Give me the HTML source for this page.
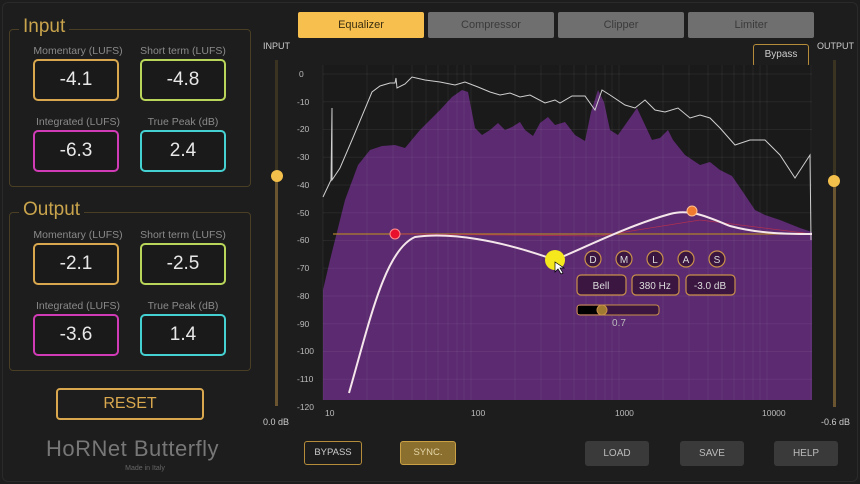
<!DOCTYPE html>
<html><head><meta charset="utf-8"><style>
*{margin:0;padding:0;box-sizing:border-box}
body{width:860px;height:484px;background:#1d1d1d;overflow:hidden;font-family:"Liberation Sans",sans-serif;position:relative}
.a{position:absolute}
.grp{position:absolute;border:1px solid #4a3f25;border-radius:4px}
.gt{position:absolute;color:#c9a44c;font-size:19px;background:#1d1d1d;padding:0 4px}
.lbl{position:absolute;color:#8a8a8a;font-size:10.5px;width:120px;text-align:center}
.box{position:absolute;width:86px;height:42px;border:2px solid;border-radius:5px;color:#e8e8e8;font-size:19px;text-align:center;line-height:38px;background:#1a1a1a}
.tab{position:absolute;top:12px;height:26px;border-radius:2px;background:#6f6f6f;color:#3a3a3a;font-size:11px;text-align:center;line-height:26px}
.btn{position:absolute;top:441px;height:25px;border-radius:3px;background:#3a3a3a;color:#bbb;font-size:10px;text-align:center;line-height:25px}
.ax{position:absolute;color:#bbb;font-size:9px}
</style></head><body>
<div class="a" style="left:2px;top:2px;width:856px;height:480px;border-radius:6px;background:#1d1d1d;border:1px solid #2a2a2a"></div>

<div class="grp" style="left:9px;top:29px;width:242px;height:158px"></div>
<div class="gt" style="left:19px;top:16px">Input</div>
<div class="lbl" style="left:18px;top:45px">Momentary (LUFS)</div>
<div class="lbl" style="left:123px;top:45px">Short term (LUFS)</div>
<div class="box" style="left:33px;top:59px;border-color:#d9a84e">-4.1</div>
<div class="box" style="left:140px;top:59px;border-color:#b9d65a">-4.8</div>
<div class="lbl" style="left:18px;top:116px">Integrated (LUFS)</div>
<div class="lbl" style="left:123px;top:116px">True Peak (dB)</div>
<div class="box" style="left:33px;top:130px;border-color:#d13cb6">-6.3</div>
<div class="box" style="left:140px;top:130px;border-color:#45d1d1">2.4</div>

<div class="grp" style="left:9px;top:212px;width:242px;height:159px"></div>
<div class="gt" style="left:19px;top:199px">Output</div>
<div class="lbl" style="left:18px;top:229px">Momentary (LUFS)</div>
<div class="lbl" style="left:123px;top:229px">Short term (LUFS)</div>
<div class="box" style="left:33px;top:243px;border-color:#d9a84e">-2.1</div>
<div class="box" style="left:140px;top:243px;border-color:#b9d65a">-2.5</div>
<div class="lbl" style="left:18px;top:300px">Integrated (LUFS)</div>
<div class="lbl" style="left:123px;top:300px">True Peak (dB)</div>
<div class="box" style="left:33px;top:314px;border-color:#d13cb6">-3.6</div>
<div class="box" style="left:140px;top:314px;border-color:#45d1d1">1.4</div>

<div class="a" style="left:56px;top:388px;width:148px;height:32px;border:2px solid #d9a84e;border-radius:4px;color:#d9a84e;font-size:16px;text-align:center;line-height:28px">RESET</div>
<div class="a" style="left:46px;top:436px;width:200px;color:#777;font-size:22px;letter-spacing:0.5px">HoRNet Butterfly</div>
<div class="a" style="left:100px;top:465px;width:90px;text-align:center;color:#666;font-size:7px">Made in Italy</div>

<div class="a" style="left:263px;top:41px;color:#ccc;font-size:9px">INPUT</div>
<div class="a" style="left:275px;top:60px;width:3px;height:110px;background:#3a3322"></div>
<div class="a" style="left:275px;top:176px;width:3px;height:230px;background:#6a5530"></div>
<div class="a" style="left:271px;top:170px;width:12px;height:12px;border-radius:50%;background:#f4c04c"></div>
<div class="a" style="left:263px;top:417px;color:#ccc;font-size:9px">0.0 dB</div>

<div class="a" style="left:817px;top:41px;color:#ccc;font-size:9px">OUTPUT</div>
<div class="a" style="left:833px;top:60px;width:3px;height:120px;background:#3a3322"></div>
<div class="a" style="left:833px;top:185px;width:3px;height:222px;background:#6a5530"></div>
<div class="a" style="left:828px;top:175px;width:12px;height:12px;border-radius:50%;background:#f4c04c"></div>
<div class="a" style="left:821px;top:417px;color:#ccc;font-size:9px">-0.6 dB</div>

<div class="tab" style="left:298px;width:126px;background:#f6bf4e;color:#3a2e10">Equalizer</div>
<div class="tab" style="left:428px;width:126px">Compressor</div>
<div class="tab" style="left:558px;width:126px">Clipper</div>
<div class="tab" style="left:688px;width:126px">Limiter</div>
<div class="a" style="left:753px;top:44px;width:56px;height:23px;border:1.5px solid #b58c3a;border-radius:3px;color:#ccc;font-size:10px;text-align:center;line-height:20px">Bypass</div>

<svg class="a" style="left:0;top:0" width="860" height="484">
<rect x="323" y="65" width="489" height="335" fill="#1a1a1a"/>
<path d="M323,400 L323,290 L330,260 L345,200 L358,165 L370,150 L382,146 L395,145 L405,148 L420,130 L440,110 L452,97 L462,90 L468,92 L475,128 L482,135 L490,130 L498,123 L505,130 L512,127 L520,122 L525,130 L533,136 L540,123 L548,117 L555,125 L565,122 L575,135 L585,141 L591,112 L598,90 L604,102 L610,130 L618,135 L630,118 L637,108 L645,125 L652,140 L660,138 L668,130 L673,140 L685,155 L700,165 L710,162 L720,170 L732,176 L745,195 L755,210 L765,215 L780,220 L800,228 L812,232 L812,400 Z" fill="#5b2a70"/>
<g stroke="#ffffff" stroke-opacity="0.06" stroke-width="1">
<path d="M323,74H812M323,101.8H812M323,129.5H812M323,157.3H812M323,185H812M323,212.8H812M323,240.5H812M323,268.3H812M323,296H812M323,323.8H812M323,351.5H812M323,379.3H812"/>
<path d="M323,65V400M367,65V400M393,65V400M412,65V400M426,65V400M438,65V400M448,65V400M457,65V400M464,65V400M471,65V400M515,65V400M541,65V400M560,65V400M574,65V400M586,65V400M596,65V400M605,65V400M612,65V400M619,65V400M663,65V400M689,65V400M708,65V400M722,65V400M734,65V400M744,65V400M753,65V400M760,65V400M767,65V400M811,65V400"/>
</g>
<path d="M323,197 L331,180 L332,108 L332,180 L340,168 L352,140 L372,92 L380,86 L390,83 L395,83 L396,78 L397,88 L405,84 L412,77 L425,80 L440,82 L455,85 L465,82 L478,87 L490,92 L500,95 L510,93 L520,97 L530,95 L545,103 L555,100 L560,103 L572,96 L585,96 L595,110 L602,90 L610,95 L625,105 L635,108 L645,100 L655,110 L665,112 L678,108 L690,118 L700,115 L710,118 L720,128 L735,145 L750,140 L765,140 L780,155 L795,178 L810,155 L811,240" fill="none" stroke="#cfcfcf" stroke-width="1"/>
<path d="M333,234 L812,234" stroke="#b0802a" stroke-width="1.2"/>
<path d="M400,234 L600,236 L700,220 L812,234" stroke="#b03050" stroke-width="0.8" fill="none"/>
<path d="M349,393 C370,320 385,250 415,237 C450,232 500,240 555,260 C590,245 630,225 670,214 C690,208 710,218 730,226 C760,234 790,234 812,234" fill="none" stroke="#f4e6ea" stroke-width="2"/>
<circle cx="395" cy="234" r="5" fill="#e8102c" stroke="#ff9090" stroke-width="1"/>
<circle cx="692" cy="211" r="5" fill="#f07a30" stroke="#ffc090" stroke-width="1"/>
<circle cx="555" cy="260" r="10" fill="#f5e81c"/>
<path d="M555,262 l0,10 l3,-3 l3,5 l2,-1 l-3,-5 l4,0 z" fill="#fff" stroke="#000" stroke-width="0.7"/>
<g fill="#3a1640" stroke="#c9904a" stroke-width="1.2">
<circle cx="593" cy="259" r="8"/><circle cx="624" cy="259" r="8"/><circle cx="655" cy="259" r="8"/><circle cx="686" cy="259" r="8"/><circle cx="717" cy="259" r="8"/>
<rect x="577" y="275" width="49" height="20" rx="4"/><rect x="632" y="275" width="47" height="20" rx="4"/><rect x="686" y="275" width="49" height="20" rx="4"/>
<rect x="577" y="305" width="82" height="10" rx="3" stroke-width="1"/>
</g>
<rect x="578" y="306" width="22" height="8" fill="#000"/>
<circle cx="602" cy="310" r="5" fill="#a07a30" stroke="#c9904a"/>
<g fill="#ddd" font-size="10" font-family="Liberation Sans" text-anchor="middle">
<text x="593" y="263">D</text><text x="624" y="263">M</text><text x="655" y="263">L</text><text x="686" y="263">A</text><text x="717" y="263">S</text>
<text x="601" y="289">Bell</text><text x="655" y="289">380 Hz</text><text x="710" y="289">-3.0 dB</text>
<text x="619" y="326" fill="#bbb">0.7</text>
</g>
<g fill="#bbb" font-size="8.5" font-family="Liberation Sans">
<text x="299" y="77">0</text><text x="297" y="105">-10</text><text x="297" y="132">-20</text><text x="297" y="160">-30</text><text x="297" y="188">-40</text><text x="297" y="216">-50</text><text x="297" y="243">-60</text><text x="297" y="271">-70</text><text x="297" y="299">-80</text><text x="297" y="327">-90</text><text x="297" y="354">-100</text><text x="297" y="382">-110</text><text x="297" y="410">-120</text>
<text x="325" y="416">10</text><text x="471" y="416">100</text><text x="615" y="416">1000</text><text x="762" y="416">10000</text>
</g>
</svg>

<div class="a" style="left:304px;top:441px;width:58px;height:24px;border:1.5px solid #b58c3a;border-radius:3px;color:#ccc;font-size:9.5px;text-align:center;line-height:21px">BYPASS</div>
<div class="a" style="left:400px;top:441px;width:56px;height:24px;border:1.5px solid #c9a044;border-radius:3px;background:#8a6f2e;color:#e6d6a8;font-size:9.5px;text-align:center;line-height:21px">SYNC.</div>
<div class="btn" style="left:585px;width:64px">LOAD</div>
<div class="btn" style="left:680px;width:64px">SAVE</div>
<div class="btn" style="left:774px;width:64px">HELP</div>
</body></html>
